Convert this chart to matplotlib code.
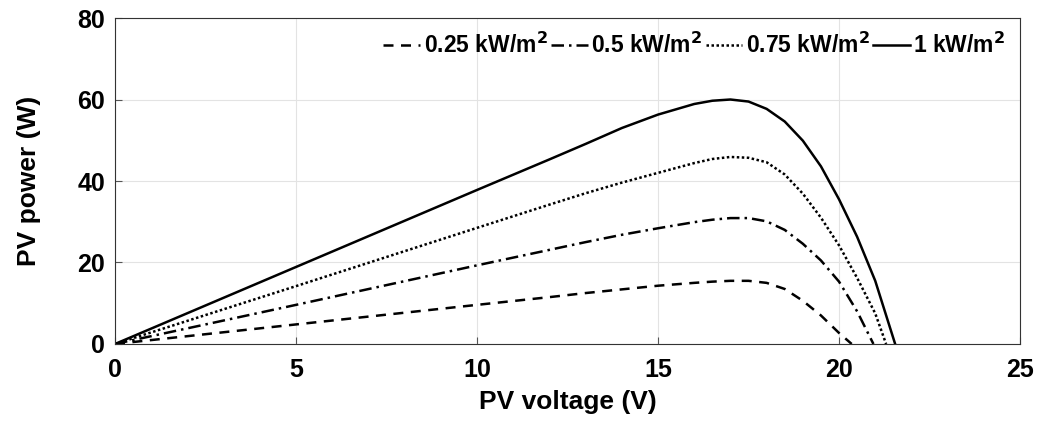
import numpy as np
import matplotlib.pyplot as plt

plt.rcParams['font.family'] = ['Liberation Sans', 'DejaVu Sans']
plt.rcParams['font.weight'] = 'bold'
plt.rcParams['mathtext.default'] = 'bf'

# PV power curves (voltage V, power W)
v_1000 = [0, 5, 10, 12, 13, 14, 15, 16, 16.5, 17, 17.5, 18, 18.5, 19, 19.5, 20, 20.5, 21, 21.55]
p_1000 = [0, 18.9, 37.8, 45.3, 49.1, 53.0, 56.3, 58.9, 59.7, 60.0, 59.5, 57.7, 54.6, 49.9, 43.6, 35.5, 26.3, 15.5, 0]

v_750 = [0, 5, 10, 12, 13, 14, 15, 16, 16.5, 17, 17.5, 18, 18.5, 19, 19.5, 20, 20.5, 21, 21.3]
p_750 = [0, 14.2, 28.5, 34.2, 37.0, 39.6, 42.0, 44.4, 45.4, 45.9, 45.7, 44.6, 41.6, 36.9, 31.0, 24.2, 16.2, 7.5, 0]

v_500 = [0, 5, 10, 12, 13, 14, 15, 16, 16.5, 17, 17.5, 18, 18.5, 19, 19.5, 20, 20.5, 20.95]
p_500 = [0, 9.6, 19.3, 23.1, 25.0, 26.8, 28.4, 29.9, 30.5, 30.9, 30.9, 30.1, 28.0, 24.6, 20.5, 15.3, 8.0, 0]

v_250 = [0, 5, 10, 12, 13, 14, 15, 16, 16.5, 17, 17.5, 18, 18.5, 19, 19.5, 20, 20.35]
p_250 = [0, 4.8, 9.6, 11.5, 12.5, 13.4, 14.3, 15.0, 15.3, 15.5, 15.5, 15.0, 13.5, 10.6, 7.0, 2.7, 0]

labels = ['0.25 kW/m$^2$', '0.5 kW/m$^2$', '0.75 kW/m$^2$', '1 kW/m$^2$']

fig = plt.figure(figsize=(10.38, 4.23), dpi=100)
ax = fig.add_axes([0.1108, 0.1868, 0.8719, 0.7706])

ax.plot(v_250, p_250, color='k', lw=1.8, ls=(0, (4, 3)), label=labels[0])
ax.plot(v_500, p_500, color='k', lw=1.8, ls=(0, (5, 2, 1, 2)), label=labels[1])
ax.plot(v_750, p_750, color='k', lw=1.8, ls=(0, (1, 1)), label=labels[2])
ax.plot(v_1000, p_1000, color='k', lw=1.8, ls='-', label=labels[3])

ax.set_xlim(0, 25)
ax.set_ylim(0, 80)
ax.set_xticks(np.arange(0, 26, 5))
ax.set_yticks(np.arange(0, 81, 20))
ax.grid(color='#e3e3e3', lw=0.8)
ax.tick_params(direction='in', labelsize=18, length=5, color='#555555')
ax.tick_params(axis='x', pad=10)
ax.tick_params(axis='y', pad=7)
for s in ax.spines.values():
    s.set_color('#333333')
ax.set_xlabel('PV voltage (V)', fontsize=19, fontweight='bold', labelpad=6)
ax.set_ylabel('PV power (W)', fontsize=19, fontweight='bold', labelpad=26)

ax.legend(loc='upper right', ncol=4, frameon=False,
          handlelength=1.6, handletextpad=0.15, columnspacing=0.15,
          borderaxespad=0.25, prop={'weight': 'bold', 'size': 16.5})

fig.savefig('out.png', dpi=100)
